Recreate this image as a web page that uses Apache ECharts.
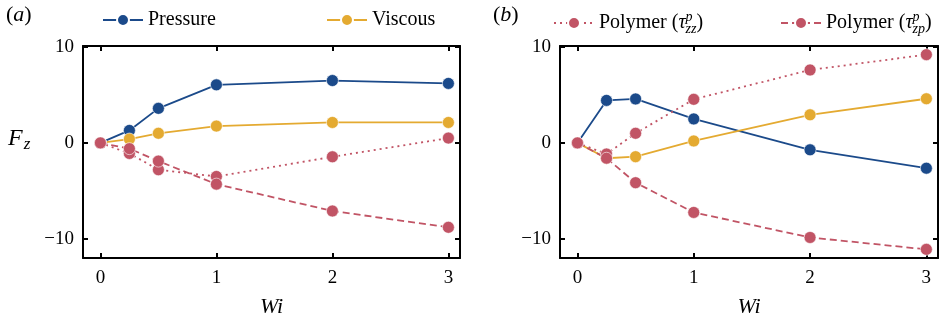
<!DOCTYPE html>
<html><head><meta charset="utf-8">
<script src="https://cdn.jsdelivr.net/npm/echarts@6/dist/echarts.min.js"></script>
<style>html,body{margin:0;padding:0;background:#fff}#c{width:942px;height:323px}</style>
</head><body><div id="c"></div>
<script>
const wi = [0, 0.25, 0.5, 1, 2, 3];
const xTicks = [0, 1, 2, 3];
const yTicks = [-10, 0, 10];
// panel (a)
const aPressure = [0, 1.3, 3.6, 6.05, 6.5, 6.2];
const aViscous = [0, 0.4, 1.0, 1.75, 2.13, 2.13];
const aPolyZZ = [0, -1.1, -2.8, -3.5, -1.45, 0.5];
const aPolyZP = [0, -0.6, -1.9, -4.3, -7.1, -8.8];
// panel (b)
const bPressure = [0, 4.43, 4.58, 2.5, -0.72, -2.64];
const bViscous = [0, -1.6, -1.44, 0.2, 2.93, 4.6];
const bPolyZZ = [0, -1.16, 1.0, 4.54, 7.6, 9.2];
const bPolyZP = [0, -1.6, -4.15, -7.25, -9.86, -11.1];

const BLUE = '#1b4a8a', GOLD = '#e4aa31', RED = '#c15465';
const FONT = 'Liberation Serif';
const pair = (ys) => wi.map((x, i) => [x, ys[i]]);

const grids = [
  {left: 83, top: 46, width: 377, height: 214},
  {left: 560, top: 46, width: 378, height: 214}
];
const xAxes = [], yAxes = [];
[0, 1].forEach(g => {
  const base = {gridIndex: g, type: 'value', min: -0.15, max: 3.1, splitLine: {show: false},
    axisLine: {onZero: false, lineStyle: {color: '#000', width: 2}},
    axisTick: {inside: true, length: 5, lineStyle: {color: '#000', width: 2}, customValues: xTicks}};
  xAxes.push(Object.assign({}, base, {position: 'bottom',
    axisLabel: {customValues: xTicks, margin: 11, color: '#000', fontFamily: FONT, fontSize: 19},
    name: 'Wi', nameLocation: 'middle', nameGap: 38,
    nameTextStyle: {color: '#000', fontFamily: FONT, fontSize: 22, fontStyle: 'italic'}}));
  xAxes.push(Object.assign({}, base, {position: 'top', axisLabel: {show: false}}));
  const ybase = {gridIndex: g, type: 'value', min: -12, max: 10.1, splitLine: {show: false},
    axisLine: {onZero: false, lineStyle: {color: '#000', width: 2}},
    axisTick: {inside: true, length: 5, lineStyle: {color: '#000', width: 2}, customValues: yTicks}};
  yAxes.push(Object.assign({}, ybase, {position: 'left',
    axisLabel: {customValues: yTicks, margin: 9, color: '#000', fontFamily: FONT, fontSize: 19,
      formatter: v => v < 0 ? '\u2212' + Math.abs(v) : String(v)}}));
  yAxes.push(Object.assign({}, ybase, {position: 'right', axisLabel: {show: false}}));
});

function ser(name, data, color, type, g) {
  return {name, type: 'line', xAxisIndex: g * 2, yAxisIndex: g * 2, data: pair(data),
    symbol: 'circle', symbolSize: 12, color,
    itemStyle: {color, borderColor: '#fff', borderWidth: 0.6},
    lineStyle: {color, width: 1.8, type: type === 'dotted' ? [2, 4] : (type === 'dashed' ? [7, 4] : 'solid')},
    animation: false, z: name.indexOf('Polymer') === 0 ? 3 : 2};
}
const ZZ = 'Polymer (zz)', ZP = 'Polymer (zp)';
const series = [
  ser('Pressure', aPressure, BLUE, 'solid', 0),
  ser('Viscous', aViscous, GOLD, 'solid', 0),
  ser(ZZ, aPolyZZ, RED, 'dotted', 0),
  ser(ZP, aPolyZP, RED, 'dashed', 0),
  ser('Pressure', bPressure, BLUE, 'solid', 1),
  ser('Viscous', bViscous, GOLD, 'solid', 1),
  ser(ZZ, bPolyZZ, RED, 'dotted', 1),
  ser(ZP, bPolyZP, RED, 'dashed', 1)
];

const rich = {
  t: {fontFamily: FONT, fontSize: 20, color: '#000'},
  i: {fontFamily: FONT, fontSize: 20, fontStyle: 'italic', color: '#000'},
  sup: {fontFamily: FONT, fontSize: 14, fontStyle: 'italic', color: '#000', width: 0, verticalAlign: 'top', padding: [0, 0, 12, 0]},
  sub: {fontFamily: FONT, fontSize: 14, fontStyle: 'italic', color: '#000', verticalAlign: 'bottom', padding: [10, 0, 0, 0]}
};
function leg(name, left) {
  return {data: [name], left, top: 5, itemWidth: 40, itemHeight: 15, itemGap: 0,
    selectedMode: false, textStyle: {rich, fontFamily: FONT, fontSize: 20, color: '#000'},
    formatter: n => n === ZZ ? '{t|Polymer (}{i|τ}{sup|p}{sub|zz}{t|)}' :
      n === ZP ? '{t|Polymer (}{i|τ}{sup|p}{sub|zp}{t|)}' : '{t|' + n + '}'};
}
const legends = [leg('Pressure', 97), leg('Viscous', 321), leg(ZZ, 548), leg(ZP, 775)];

const graphic = [
  {type: 'text', left: 6, top: 4, style: {text: '({i|a})', font: '22px ' + FONT, fill: '#000',
    rich: {i: {fontFamily: FONT, fontSize: 22, fontStyle: 'italic'}}}},
  {type: 'text', left: 493, top: 4, style: {text: '({i|b})', font: '22px ' + FONT, fill: '#000',
    rich: {i: {fontFamily: FONT, fontSize: 22, fontStyle: 'italic'}}}},
  {type: 'text', left: 8, top: 127, style: {text: '{F|F}{z|z}', fill: '#000',
    rich: {F: {fontFamily: FONT, fontSize: 24, fontStyle: 'italic'},
      z: {fontFamily: FONT, fontSize: 17, fontStyle: 'italic', verticalAlign: 'bottom', padding: [12, 0, 0, 1]}}}}
];

const chart = echarts.init(document.getElementById('c'), null, {renderer: 'canvas'});
chart.setOption({backgroundColor: '#fff', animation: false, grid: grids, xAxis: xAxes, yAxis: yAxes,
  series, legend: legends, graphic});
</script></body></html>
